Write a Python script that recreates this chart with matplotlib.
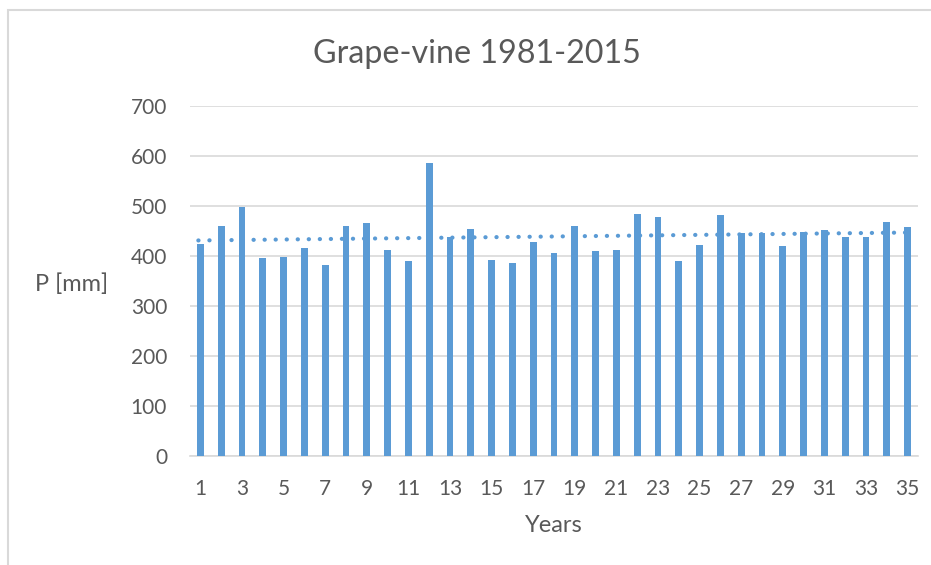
import numpy as np
import matplotlib
matplotlib.use("Agg")
import matplotlib.pyplot as plt
from matplotlib.patches import Rectangle

years = list(range(1, 36))
precip = [425, 461, 499, 397, 399, 417, 382, 460, 467, 412, 390, 587,
          438, 454, 392, 387, 429, 406, 461, 410, 412, 484, 479, 391,
          423, 483, 447, 447, 421, 449, 452, 439, 439, 469, 458]
yticks = [0, 100, 200, 300, 400, 500, 600, 700]
xtick_labels = [str(v) for v in range(1, 36, 2)]

plt.rcParams['font.family'] = ['Lato', 'DejaVu Sans']
txt = '#595959'
bar_c = '#5B9BD5'

fig = plt.figure(figsize=(9.31, 5.65), dpi=100)
fig.patches.append(Rectangle((8/931, -0.1), 1.2, 1 - 10/565 + 0.1, transform=fig.transFigure,
                             fill=False, edgecolor='#D9D9D9', linewidth=1.5))
ax = fig.add_axes([190/931, 1 - 456/565, (918 - 190)/931, (456 - 106)/565])

x = np.array(years)
y = np.array(precip)
ax.bar(x, y, width=0.33, color=bar_c, zorder=3)
m, b = np.polyfit(x, y, 1)
xt = np.array([x[0] - 0.1, x[-1] + 0.1])
ax.plot(xt, m*xt + b, color=bar_c, linewidth=3.0, linestyle=(0, (0.05, 2.6)),
        dash_capstyle='round', zorder=4)

ax.set_xlim(0.5, 35.5)
ax.set_ylim(0, 700)
ax.set_yticks(yticks)
ax.set_yticklabels([str(v) for v in yticks])
ax.set_xticks(range(1, 36, 2))
ax.set_xticklabels(xtick_labels)
ax.grid(axis='y', color='#D9D9D9', linewidth=1.2, zorder=0)
for s in ['top', 'right', 'left']:
    ax.spines[s].set_visible(False)
ax.spines['bottom'].set_color('#D9D9D9')
ax.spines['bottom'].set_linewidth(1.2)
ax.tick_params(axis='both', length=0, labelsize=15, colors=txt)
ax.tick_params(axis='y', pad=16.5)
ax.tick_params(axis='x', pad=16.5)

fig.text(476.5/931, 1 - 63.3/565, 'Grape-vine 1981-2015', ha='center', va='baseline',
         fontsize=23.2, color=txt)
fig.text(72/931, 1 - 284/565, 'P [mm]', ha='center', va='center', fontsize=17, color=txt)
fig.text(554/931, 1 - 531.5/565, 'Years', ha='center', va='baseline', fontsize=17, color=txt)

fig.savefig('out.png', dpi=100)
